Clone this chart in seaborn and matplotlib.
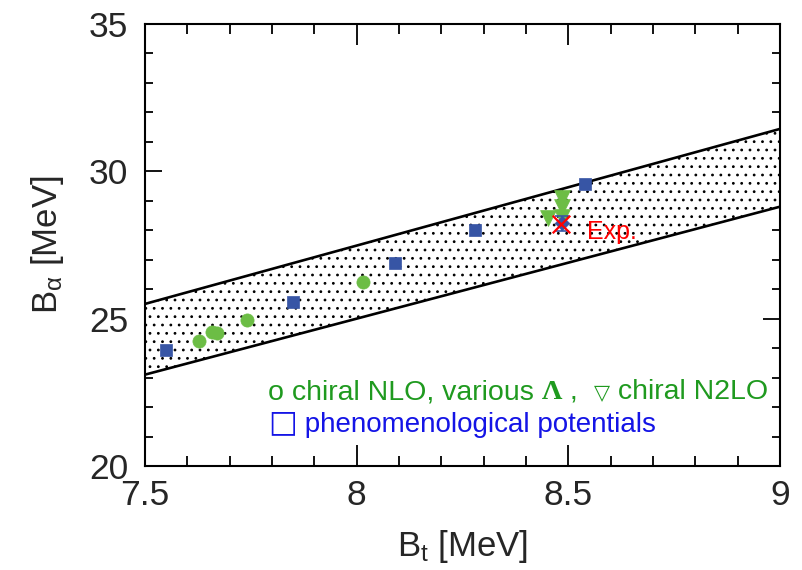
import matplotlib
matplotlib.use("Agg")
import matplotlib.pyplot as plt
import seaborn as sns
import pandas as pd
from matplotlib.ticker import MultipleLocator
from matplotlib.offsetbox import TextArea, HPacker, AnchoredOffsetbox

# ---- data ----
nlo_bt = [7.628, 7.658, 7.670, 7.740, 8.015]
nlo_ba = [24.25, 24.55, 24.50, 24.96, 26.25]

n2lo_bt = [8.452, 8.485, 8.485, 8.485]
n2lo_ba = [28.42, 29.10, 28.80, 28.45]

pheno_bt = [7.55, 7.85, 8.09, 8.28, 8.54]
pheno_ba = [23.95, 25.57, 26.90, 28.02, 29.58]

diam_bt = [8.485]
diam_ba = [28.23]
diam_err = [0.25]

exp_bt = [8.482]
exp_ba = [28.22]

band_x = [7.5, 9.0]
band_upper = [25.50, 31.44]
band_lower = [23.10, 28.80]

xticks = [7.5, 8, 8.5, 9]
xticklabels = ["7.5", "8", "8.5", "9"]
yticks = [20, 25, 30, 35]
yticklabels = ["20", "25", "30", "35"]

# ---- style ----
sns.set_style("ticks")
plt.rcParams['font.family'] = ['Liberation Sans', 'DejaVu Sans']
plt.rcParams['mathtext.fontset'] = 'custom'
plt.rcParams['mathtext.rm'] = 'Liberation Sans'
plt.rcParams['mathtext.it'] = 'Liberation Sans'
plt.rcParams['mathtext.bf'] = 'Liberation Sans:bold'
plt.rcParams['hatch.linewidth'] = 0.8

GREEN_M = '#6cbd45'
GREEN_T = '#1f9a1f'
BLUE_M = '#3755a5'
BLUE_T = '#1414e6'

fig = plt.figure(figsize=(8.03, 5.70), dpi=100)
ax = fig.add_axes([0.1806, 0.1825, 0.7908, 0.7754])

# band
band_df = pd.DataFrame({'x': band_x, 'up': band_upper, 'lo': band_lower})
ax.fill_between(band_df['x'], band_df['lo'], band_df['up'], facecolor='white',
                edgecolor='black', hatch='..', linewidth=0, zorder=1)
sns.lineplot(data=band_df, x='x', y='up', color='black', lw=1.9, ax=ax, zorder=2)
sns.lineplot(data=band_df, x='x', y='lo', color='black', lw=1.9, ax=ax, zorder=2)

# points
sns.scatterplot(x=nlo_bt, y=nlo_ba, marker='o', s=90, color=GREEN_M,
                edgecolor=GREEN_M, linewidth=0.5, ax=ax, zorder=4)
sns.scatterplot(x=pheno_bt, y=pheno_ba, marker='s', s=85, color=BLUE_M,
                edgecolor=BLUE_M, linewidth=0.5, ax=ax, zorder=4)
sns.scatterplot(x=n2lo_bt, y=n2lo_ba, marker='v', s=130, color=GREEN_M,
                edgecolor=GREEN_M, linewidth=0.5, ax=ax, zorder=4)
ax.errorbar(diam_bt, diam_ba, yerr=diam_err, fmt='none', ecolor=BLUE_M,
            elinewidth=1.2, capsize=5, capthick=1.2, zorder=5)
sns.scatterplot(x=diam_bt, y=diam_ba, marker='D', s=55, color=BLUE_M,
                edgecolor=BLUE_M, linewidth=0.5, ax=ax, zorder=6)
sns.scatterplot(x=exp_bt, y=exp_ba, marker='x', s=160, color='red',
                linewidth=1.6, ax=ax, zorder=7)
ax.text(8.545, 27.94, 'Exp.', color='red', fontsize=18,
        ha='left', va='center', zorder=8)

# legend-like text
FS = 20.5
line1 = HPacker(children=[
    TextArea('o chiral NLO, various ', textprops=dict(color=GREEN_T, fontsize=FS)),
    TextArea('Λ', textprops=dict(color=GREEN_T, fontsize=FS, family='Liberation Serif',
                                 weight='bold')),
    TextArea(' ,  ', textprops=dict(color=GREEN_T, fontsize=FS)),
    TextArea('▽', textprops=dict(color=GREEN_T, fontsize=15, family='DejaVu Sans')),
    TextArea(' chiral N2LO', textprops=dict(color=GREEN_T, fontsize=FS)),
], pad=0, sep=0, align='baseline')
line2 = HPacker(children=[
    TextArea('□', textprops=dict(color=BLUE_T, fontsize=22, family='DejaVu Sans')),
    TextArea(' phenomenological potentials', textprops=dict(color=BLUE_T, fontsize=20)),
], pad=0, sep=0, align='baseline')
for child, ypos in ((line1, 0.167), (line2, 0.097)):
    ab = AnchoredOffsetbox(loc='center left', child=child, pad=0, borderpad=0,
                           frameon=False, bbox_to_anchor=(0.194, ypos),
                           bbox_transform=ax.transAxes)
    ax.add_artist(ab)

# axes
ax.set_xlim(7.5, 9.0)
ax.set_ylim(20, 35)
ax.set_xticks(xticks)
ax.set_xticklabels(xticklabels)
ax.set_yticks(yticks)
ax.set_yticklabels(yticklabels)
ax.xaxis.set_minor_locator(MultipleLocator(0.1))
ax.yaxis.set_minor_locator(MultipleLocator(1))
ax.tick_params(axis='both', which='both', direction='in', top=True, right=True,
               width=1.3, color='black', labelsize=25.5)
ax.tick_params(axis='x', which='major', length=15, pad=9.5)
ax.tick_params(axis='x', which='minor', length=7.5)
ax.tick_params(axis='y', which='major', length=12, pad=12)
ax.tick_params(axis='y', which='minor', length=6)
for sp in ax.spines.values():
    sp.set_linewidth(1.5)
    sp.set_color('black')

ax.set_xlabel(r'B$_{\mathrm{t}}$ [MeV]', fontsize=25)
ax.set_ylabel(r'B$_{\alpha}$ [MeV]', fontsize=25)
ax.xaxis.set_label_coords(0.5, -0.14)
ax.yaxis.set_label_coords(-0.125, 0.5)

fig.savefig('out.png', dpi=100)
